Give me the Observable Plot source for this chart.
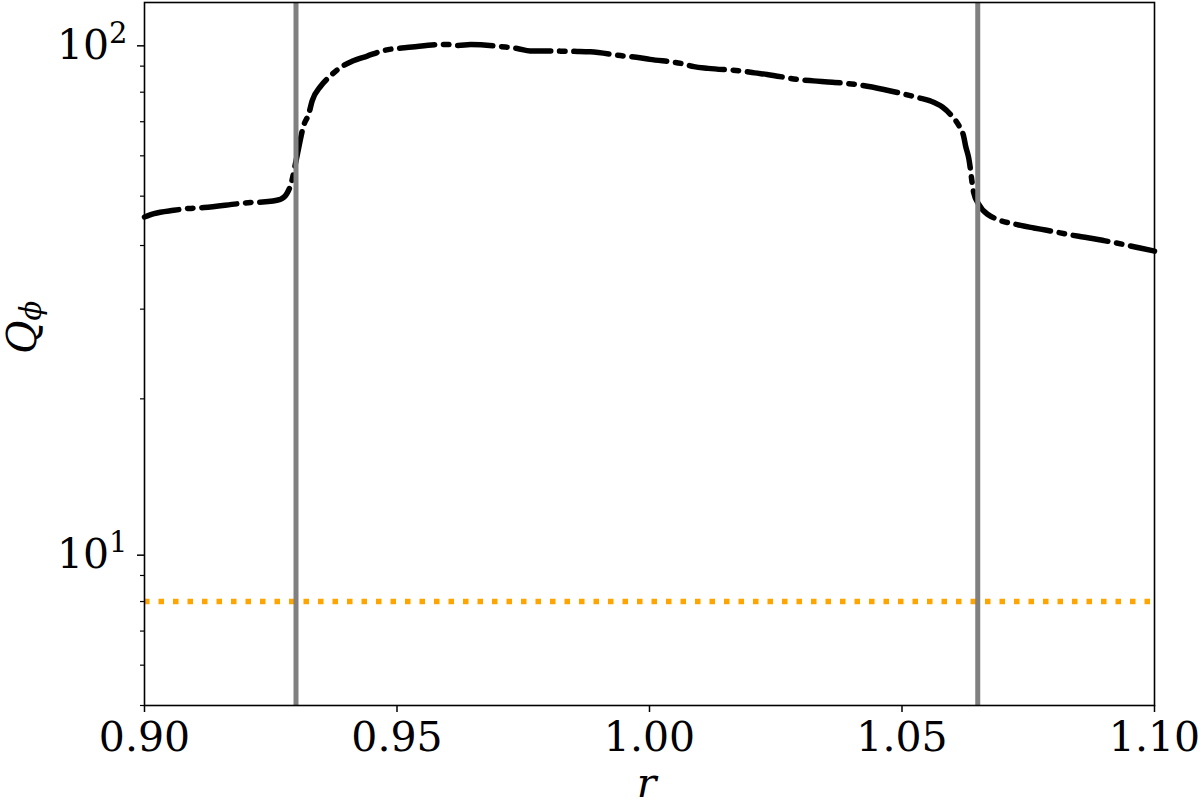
<!DOCTYPE html>
<html>
<head>
<meta charset="utf-8">
<script src="https://cdn.jsdelivr.net/npm/d3@7"></script>
<script src="https://cdn.jsdelivr.net/npm/@observablehq/plot@0.6"></script>
<style>
  html, body { margin: 0; padding: 0; background: #fff; }
</style>
</head>
<body>
<div id="chart"></div>
<script>
// ---- data ----
const rValues = [0.9000, 0.9019, 0.9058, 0.9088, 0.9118, 0.9184, 0.9210, 0.9234, 0.9269, 0.9283,
  0.9291, 0.9300, 0.9316, 0.9325, 0.9332, 0.9349, 0.9368, 0.9392, 0.9411, 0.9441,
  0.9474, 0.9530, 0.9596, 0.9621, 0.9646, 0.9715, 0.9738, 0.9764, 0.9830, 0.9857,
  0.9883, 0.9949, 0.9974, 1.0001, 1.0065, 1.0088, 1.0116, 1.0184, 1.0208, 1.0233,
  1.0299, 1.0325, 1.0362, 1.0418, 1.0464, 1.0533, 1.0556, 1.0580, 1.0599, 1.0613,
  1.0622, 1.0626, 1.0632, 1.0642, 1.0652, 1.0669, 1.0735, 1.0761, 1.0784, 1.0850,
  1.0877, 1.0900, 1.0969, 1.1000];
const qValues = [45.5, 46.2, 46.9, 47.3, 47.5, 48.3, 48.6, 48.7, 49.3, 50.8,
  53.2, 58.6, 69.2, 72.4, 76.9, 82.2, 86.1, 90.0, 92.0, 94.2,
  96.6, 98.1, 99.3, 98.8, 99.2, 98.1, 97.5, 96.4, 96.3, 96.2,
  96.0, 94.2, 93.7, 92.8, 91.0, 89.8, 89.1, 88.0, 87.3, 86.7,
  84.6, 84.2, 83.7, 82.6, 81.0, 78.0, 76.9, 74.8, 71.8, 68.7,
  65.6, 62.7, 59.5, 50.8, 48.2, 46.1, 43.8, 43.3, 42.9, 41.7,
  41.3, 40.9, 39.6, 39.0];
const rBoundaries = [0.93, 1.065];
const qThreshold = [8];
const xTicks = [0.90, 0.95, 1.00, 1.05, 1.10];
const yMajorTicks = [10, 100];
const yMinorTicks = [5, 6, 7, 8, 9, 20, 30, 40, 50, 60, 70, 80, 90];
const xLabel = "r";
const yLabelMain = "Q";
const yLabelSub = "ϕ";

const data = rValues.map((r, i) => ({r, q: qValues[i]}));

const chart = Plot.plot({
  width: 1200,
  height: 805,
  marginLeft: 144,
  marginRight: 46,
  marginTop: 2,
  marginBottom: 100,
  style: {fontFamily: "'DejaVu Serif', serif", fontSize: "41px", background: "#fff", color: "#000", overflow: "visible"},
  x: {domain: [0.9, 1.1]},
  y: {type: "log", domain: [5, 120]},
  marks: [
    Plot.ruleY(qThreshold, {stroke: "#ffa500", strokeWidth: 5.5, strokeDasharray: "5.5,9"}),
    Plot.line(data, {x: "r", y: "q", stroke: "#000", strokeWidth: 5.5,
      strokeDasharray: "35.2,8.8,5.5,8.8", curve: "monotone-x"}),
    Plot.ruleX(rBoundaries, {stroke: "#808080", strokeWidth: 5}),
    Plot.frame({stroke: "#000", strokeWidth: 1.6}),
    Plot.axisX({ticks: xTicks, tickFormat: d3.format(".2f"), tickSize: 7, tickPadding: 9,
      label: null, strokeWidth: 1.5}),
    Plot.axisY({ticks: yMajorTicks, tickFormat: d => `10^${Math.round(Math.log10(d))}`,
      tickSize: 7, tickPadding: 10, label: null, strokeWidth: 1.5, dy: 3}),
    Plot.axisY({ticks: yMinorTicks, tickFormat: () => "", tickSize: 4, label: null, strokeWidth: 1.2}),
    Plot.text([xLabel], {frameAnchor: "bottom", dy: 91, dx: -3, fontStyle: "italic"}),
    Plot.text([yLabelMain + yLabelSub], {frameAnchor: "left", dx: -122, rotate: -90, fontStyle: "italic"})
  ]
});

// superscripts on the log tick labels
d3.select(chart).selectAll('g[aria-label="y-axis tick label"] text').each(function () {
  const m = this.textContent.match(/^(\d+)\^(\d+)$/);
  if (m) {
    const s = d3.select(this);
    s.text(m[1]);
    s.append("tspan").attr("font-size", "29px").attr("dy", "-0.55em").text(m[2]);
  }
});
// subscript on the y label
d3.select(chart).selectAll('g[aria-label="text"] text').each(function () {
  if (this.textContent === yLabelMain + yLabelSub) {
    const s = d3.select(this);
    s.text(yLabelMain);
    s.append("tspan").attr("font-size", "29px").attr("dy", "0.2em").text(yLabelSub);
  }
});

document.getElementById("chart").append(chart);
</script>
</body>
</html>
